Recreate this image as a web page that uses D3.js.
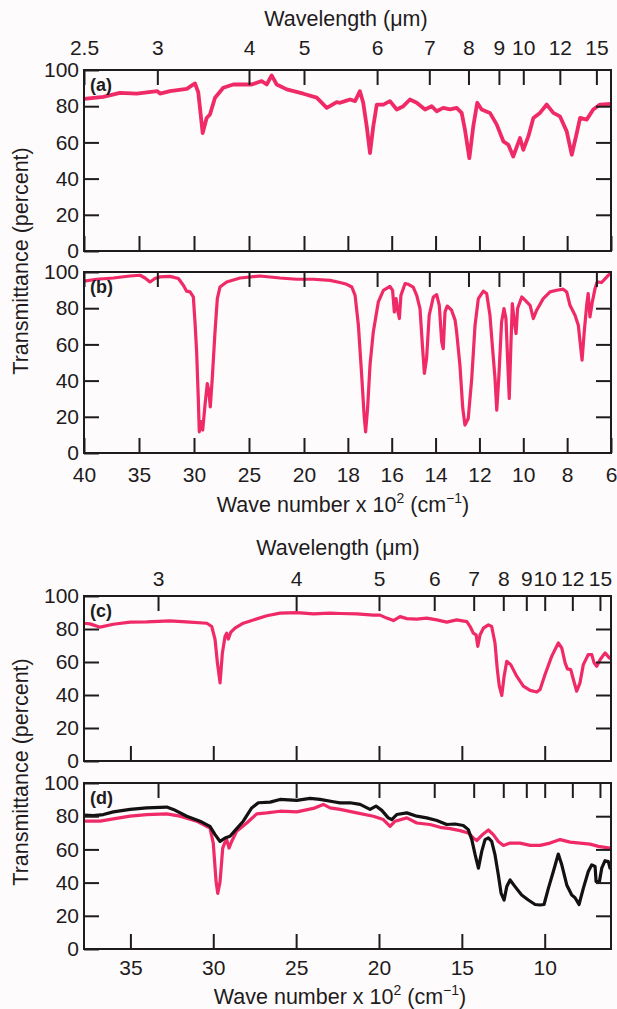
<!DOCTYPE html>
<html><head><meta charset="utf-8">
<script src="https://cdn.jsdelivr.net/npm/d3@7"></script>
<style>
body{margin:0;background:#fdfbfc}
svg{display:block}
</style>
</head><body>
<svg id="chart" width="617" height="1009"></svg>
<script>
// ---------- DATA (wave number cm^-1, transmittance %) ----------
const waveA = [4000,3825,3673,3521,3334,3309,3218,3066,2991,2961,2921,2885,2855,2809,2734,2643,2475,2385,2339,2294,2248,2157,2006,1942,1896,1851,1836,1813,1790,1767,1745,1730,1714,1699,1684,1668,1638,1608,1577,1547,1517,1486,1448,1418,1395,1365,1334,1304,1281,1266,1246,1228,1210,1190,1152,1121,1091,1068,1046,1015,1000,977,954,924,893,863,833,802,779,756,741,711,681,650,600];
const transA = [84,85.2,87.4,86.9,88.3,87,88.3,89.6,92.6,87.6,65.2,73.5,75.4,84.7,90.2,92,92,93.9,92,97,92,89.3,86.9,84.7,79.1,82.2,81.9,82.8,83.7,82.8,88.3,81.9,68.9,54.1,68.9,80.9,80.9,82.8,78.2,80,83.7,81.9,78.2,80,77.2,79.1,78.2,79.1,76.3,67,51.3,68.9,81.9,78.2,76.3,69.8,60.6,58.7,52.2,62.4,55.9,63.3,73.5,76.3,80.9,76.3,74.4,66.1,53.2,65.2,73.5,72.6,78.2,80.9,81.3];

const waveB = [4000,3885,3733,3582,3491,3445,3400,3355,3309,3218,3142,3097,3067,3036,3006,2991,2976,2961,2952,2936,2921,2900,2879,2864,2852,2834,2809,2788,2764,2703,2582,2400,2218,2067,1958,1881,1836,1805,1782,1767,1752,1737,1726,1719,1710,1699,1684,1661,1638,1608,1596,1588,1580,1573,1565,1558,1539,1524,1502,1486,1471,1459,1451,1441,1429,1410,1395,1383,1372,1365,1357,1347,1327,1311,1304,1289,1276,1266,1251,1235,1220,1205,1182,1167,1152,1140,1129,1121,1111,1099,1088,1079,1071,1064,1057,1050,1041,1033,1026,1007,992,969,954,939,909,878,848,818,802,787,764,749,741,732,722,711,704,696,685,673,663,643,620,600];
const transB = [94.9,96,96.7,97.8,98.2,96.7,94.5,96.4,97.3,97.6,96.4,92.7,89.4,89,86.2,72.4,55.9,30.2,11.7,17.3,12.7,26.5,38.4,33.8,25.5,41.2,66.9,85.3,91.7,94.5,96.7,97.8,96.7,96,96,95.4,94.2,93.2,91.7,87.1,70.6,43,21,11.7,24.7,48.5,66.9,83.5,89.9,92.1,89.9,77.9,85.3,78.9,74.3,87.1,93.6,93.2,91.7,87.1,79.8,57.7,44,52.2,76.1,86.2,87.5,81.6,61.4,57.7,77.9,81.2,78.9,73.4,66.9,48.5,24.7,15.4,19.1,41.2,70.6,85.3,89.4,88.1,76.1,57.7,41.2,23.7,43,72.4,79.8,74.3,50.4,30.2,57.7,82.6,72.4,66,79.8,86.2,84.4,81.6,74.3,78.9,85.3,89,89.9,90.5,89,81.6,76.1,70.6,61.4,51.3,66.9,81.6,88.1,75.2,83.5,90.8,94.5,94.2,97.2,99.7];

const waveC = [3780,3744,3683,3603,3502,3402,3261,3140,3039,3009,2989,2975,2959,2945,2929,2919,2909,2895,2869,2819,2758,2677,2597,2496,2396,2295,2235,2134,2034,1994,1953,1913,1873,1832,1772,1712,1651,1591,1531,1470,1450,1431,1414,1404,1390,1370,1340,1320,1300,1286,1274,1259,1245,1229,1205,1169,1129,1088,1048,1028,998,958,918,897,877,863,843,827,807,787,767,737,716,702,686,666,636,610,600];
const transC = [83.5,83.1,81.1,82.9,84.2,84.3,84.9,84.2,83.5,81.5,73.5,59.5,47.4,65.5,75.5,77.5,73.9,77.9,80.5,83.5,85.5,88,89.6,89.9,89.2,89.6,89.4,89.2,88.4,88.4,86.6,85.1,87.5,86.3,86,86.6,85.5,84.2,85.5,84.5,81.5,77.5,76.5,69.5,76.5,80.5,82.5,81.5,71.5,55.4,45.4,39.8,51.4,60.4,58.4,51.4,45.4,42.8,41.8,43.4,52.4,63.4,71.5,68.5,59.5,55.8,55.4,49.4,42.3,47.4,58.4,64.5,64.5,59.5,57.4,61.4,65.5,62.5,62];

const waveDBlack = [3780,3724,3663,3603,3502,3402,3281,3241,3160,3080,3020,2989,2959,2929,2899,2869,2819,2768,2728,2657,2597,2496,2416,2356,2275,2235,2175,2114,2054,2018,1983,1944,1923,1893,1832,1772,1712,1651,1591,1541,1491,1461,1440,1420,1400,1380,1360,1340,1320,1300,1280,1263,1245,1229,1209,1179,1139,1099,1058,1028,1004,978,948,918,897,867,837,817,793,767,737,716,696,690,670,656,636,616,606];
const transDBlack = [80.6,80.4,81,82.6,84.1,85,85.5,84.1,80,77,73.9,68.9,64.8,66.9,67.9,71.3,77,85,88.1,88.5,90.1,89.5,90.7,90.1,88.7,88,88.1,87.1,84.1,86.1,83.5,79,78,81,82,80,79,77.4,75,75.3,74.4,71.9,65.9,56.8,48.7,58.8,65.9,66.9,64.8,56.8,44.7,33.5,29.5,37.6,41.6,37.6,32.5,29.5,26.8,26.5,26.8,36.5,46.7,57.2,50.7,38.6,32.5,30.9,26.8,36.5,46.7,50.7,49.7,40.6,40.6,48.7,53.2,52.7,48.7];

const waveDRed = [3780,3683,3603,3502,3402,3281,3201,3100,3020,3000,2983,2973,2959,2943,2929,2919,2905,2889,2859,2798,2738,2677,2597,2496,2396,2336,2295,2235,2134,2034,1974,1933,1903,1832,1772,1692,1631,1571,1511,1461,1431,1410,1380,1340,1310,1280,1249,1209,1149,1088,1028,968,907,847,787,727,676,606];
const transDRed = [77,77,78.4,80,81,81.4,80,77,72.9,63.8,40.6,33.5,40.6,60.8,64.4,65.9,60.8,64.8,70.9,75.9,81.4,82,83,82.6,84.7,87.1,85,84.1,82,80,78,73.9,77,79,75.9,75,73.3,72.5,71.3,69.9,66.9,65.3,68.5,71.7,68.9,64.8,62.4,63.8,63.8,62.4,62.4,63.8,65.9,64.4,63.8,63.2,61.8,60.8];

// ---------- TICKS ----------
const yTickVals = [0,20,40,60,80,100];
const yInnerTicks = [20,40,60,80];
const lambdaTicksTop = [2.5,3,4,5,6,7,8,9,10,12,15];
const lambdaTicksBottom = [3,4,5,6,7,8,9,10,12,15];
const waveTicksTop = [4000,3500,3000,2500,2000,1800,1600,1400,1200,1000,800,600];
const waveTicksBottom = [3500,3000,2500,2000,1500,1000];

// ---------- STYLE ----------
const INK = "#1f1b1c", PINK = "#ef2a66", BLACKLINE = "#141112";
const FONT = "'Liberation Sans', Arial, Helvetica, sans-serif";
const TICK_FS = 21, TITLE_FS = 21.5;
const svg = d3.select("#chart");

const X1 = d3.scaleLinear().domain([4000,2000,600]).range([84,304,611]);
const X2 = d3.scaleLinear().domain([3780,600]).range([84,611]);

const lamFmt = v => String(+(1e4/v).toFixed(1));

const panels = [
  {id:"a", x:X1, y:d3.scaleLinear().domain([0,100]).range([251,70]),
   series:[{w:waveA,t:transA,c:PINK,sw:3.8}], lam:lambdaTicksTop, wav:waveTicksTop,
   topLabels:true, topPad:15, bottomLabels:false},
  {id:"b", x:X1, y:d3.scaleLinear().domain([0,100]).range([453,272]),
   series:[{w:waveB,t:transB,c:PINK,sw:3.2}], lam:lambdaTicksTop, wav:waveTicksTop,
   topLabels:false, bottomLabels:true, bottomPad:14},
  {id:"c", x:X2, y:d3.scaleLinear().domain([0,100]).range([761,596]),
   series:[{w:waveC,t:transC,c:PINK,sw:3.2}], lam:lambdaTicksBottom, wav:waveTicksBottom,
   topLabels:true, topPad:10, bottomLabels:false},
  {id:"d", x:X2, y:d3.scaleLinear().domain([0,100]).range([949,783]),
   series:[{w:waveDRed,t:transDRed,c:PINK,sw:3.2},{w:waveDBlack,t:transDBlack,c:BLACKLINE,sw:3.2}],
   lam:lambdaTicksBottom, wav:waveTicksBottom, topLabels:false, bottomLabels:true, bottomPad:11}
];

function styleAxis(g){
  g.attr("font-family", FONT).attr("font-size", TICK_FS).attr("color", INK);
  g.select(".domain").remove();
  g.selectAll(".tick line").attr("stroke-width", 2);
  g.selectAll(".tick text").attr("fill", INK);
}

panels.forEach(p => {
  const [x0,x1] = [p.x.range()[0], p.x.range()[p.x.range().length-1]];
  const [yb,yt] = p.y.range();
  const g = svg.append("g");
  g.append("clipPath").attr("id","clip-"+p.id)
    .append("rect").attr("x",x0).attr("y",yt-4).attr("width",x1-x0).attr("height",yb-yt+4);

  const line = d3.line().x(d=>p.x(d[0])).y(d=>p.y(d[1]));
  p.series.forEach(s => {
    g.append("path").attr("d", line(d3.zip(s.w, s.t)))
      .attr("fill","none").attr("stroke",s.c).attr("stroke-width",s.sw)
      .attr("stroke-linejoin","round").attr("stroke-linecap","round")
      .attr("clip-path","url(#clip-"+p.id+")");
  });

  g.append("g").attr("transform",`translate(${x0},0)`)
    .call(d3.axisLeft(p.y).tickValues(yTickVals).tickSize(-15).tickPadding(5).tickFormat(d3.format("d")))
    .call(styleAxis);
  g.append("g").attr("transform",`translate(${x1},0)`)
    .call(d3.axisRight(p.y).tickValues(yInnerTicks).tickSize(-15).tickFormat(""))
    .call(styleAxis);
  g.append("g").attr("transform",`translate(0,${yt})`)
    .call(d3.axisTop(p.x).tickValues(p.lam.map(l=>1e4/l)).tickSize(-15)
      .tickPadding(p.topPad||0).tickFormat(p.topLabels ? lamFmt : ""))
    .call(styleAxis);
  g.append("g").attr("transform",`translate(0,${yb})`)
    .call(d3.axisBottom(p.x).tickValues(p.wav).tickSize(-15)
      .tickPadding(p.bottomPad||0).tickFormat(p.bottomLabels ? (d=>String(d/100)) : ""))
    .call(styleAxis);

  g.append("rect").attr("x",x0).attr("y",yt).attr("width",x1-x0).attr("height",yb-yt)
    .attr("fill","none").attr("stroke",INK).attr("stroke-width",2);

  g.append("text").attr("x",90).attr("y",yt+21).text("("+p.id+")")
    .attr("font-family",FONT).attr("font-weight","bold").attr("font-size",18).attr("fill",INK);
});

function wlTitle(cx, y){
  svg.append("text").attr("x",cx).attr("y",y).attr("text-anchor","middle")
    .attr("font-family",FONT).attr("font-size",TITLE_FS).attr("fill",INK)
    .text("Wavelength (\u03bcm)");
}
function wnTitle(cx, y){
  const t = svg.append("text").attr("x",cx).attr("y",y).attr("text-anchor","middle")
    .attr("font-family",FONT).attr("font-size",TITLE_FS).attr("fill",INK);
  t.append("tspan").text("Wave number x 10");
  t.append("tspan").attr("dy",-9).attr("font-size",14).text("2");
  t.append("tspan").attr("dy",9).text(" (cm");
  t.append("tspan").attr("dy",-9).attr("font-size",14).text("\u22121");
  t.append("tspan").attr("dy",9).text(")");
}
function yTitle(cy){
  svg.append("text").attr("transform",`translate(28,${cy}) rotate(-90)`).attr("text-anchor","middle")
    .attr("font-family",FONT).attr("font-size",TITLE_FS).attr("fill",INK)
    .text("Transmittance (percent)");
}
wlTitle(346, 26);
wnTitle(343, 512);
yTitle(261);
wlTitle(338, 555);
wnTitle(340, 1004);
yTitle(772);
</script>
</body></html>
